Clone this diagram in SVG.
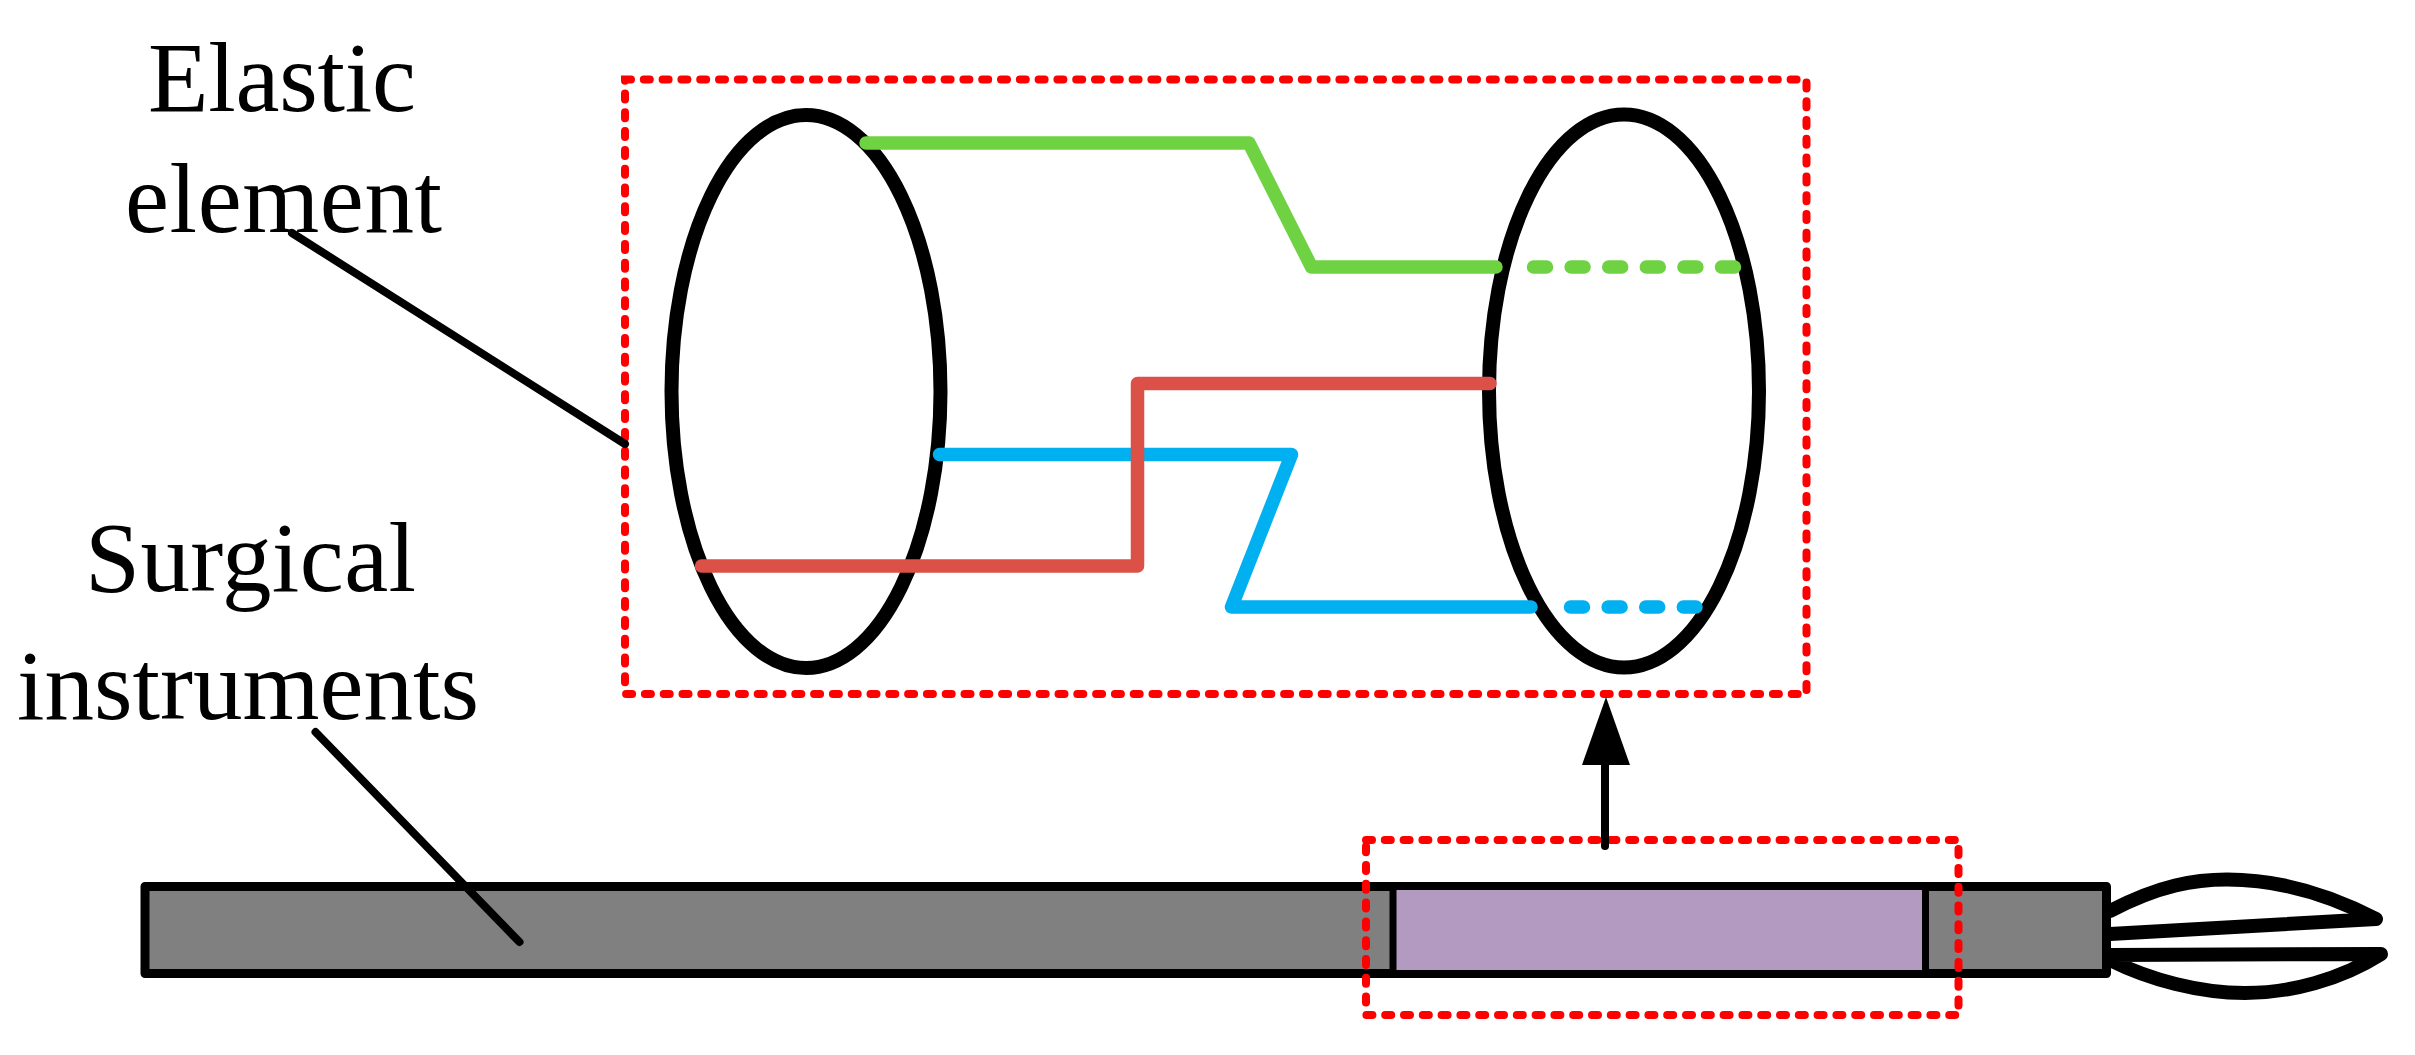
<svg xmlns="http://www.w3.org/2000/svg" width="2415" height="1055" viewBox="0 0 2415 1055">
<style>
.lbl{font-family:"Liberation Serif","Times New Roman",serif;font-size:99px;fill:#000}
.red{fill:none;stroke:#ff0000;stroke-width:8;stroke-linecap:round;stroke-dasharray:6 12.8}
.w{fill:none;stroke-width:13.5;stroke-linecap:round;stroke-linejoin:round}
.el{fill:none;stroke:#000;stroke-width:14}
.lead{fill:none;stroke:#000;stroke-width:8;stroke-linecap:round}
.jaw{fill:none;stroke:#000;stroke-width:14;stroke-linejoin:round;stroke-linecap:round}
.g{stroke:#6fd243}.r{stroke:#db5147}.b{stroke:#00b0f0}
.dash{stroke-dasharray:13 24.6}
</style>
<rect width="2415" height="1055" fill="#fff"/>
<g id="elastic-label"><text class="lbl" x="148" y="111" textLength="268">Elastic</text><text class="lbl" x="125" y="232" textLength="317">element</text></g>
<g id="surgical-label"><text class="lbl" x="85" y="591" textLength="331">Surgical</text><text class="lbl" x="17" y="719" textLength="462">instruments</text></g>
<g id="ring-left"><ellipse class="el" cx="806" cy="391.500" rx="134.500" ry="276.500"/></g>
<g id="ring-right"><ellipse class="el" cx="1624" cy="391" rx="135" ry="276.500"/></g>
<g id="instrument">
<path class="jaw" d="M2110 911C2160 885 2195 879.500 2227 879.500C2280 879.500 2330 895 2376 919L2110 934"/>
<path class="jaw" d="M2110 955L2381 954C2340 980 2290 993 2245 993C2200 993 2150 980 2110 960"/>
<rect x="145" y="886.500" width="1961.500" height="87" fill="#808080" stroke="#000" stroke-width="9" stroke-linejoin="round"/>
<rect x="1393" y="886.500" width="532.500" height="87" fill="#b29ac1" stroke="#000" stroke-width="7"/>
</g>
<g id="detail-frame"><rect class="red" x="625" y="79.500" width="1181.500" height="614.500"/></g>
<g id="source-frame"><rect class="red" x="1366" y="840" width="592.500" height="175"/></g>
<g id="connectors">
<path class="w g" d="M866 143H1249L1311.500 267H1496"/>
<path class="w g dash" d="M1533.500 267H1735"/>
<path class="w b" d="M939.500 454.500H1291.500L1231.500 607H1531"/>
<path class="w b dash" d="M1570.500 607H1696"/>
<path class="w r" d="M701.500 566H1137.500V383.500H1490"/>
<path class="lead" d="M292 233L625 444"/>
<path class="lead" d="M315.500 732L519.500 942"/>
<path d="M1605 846V760" fill="none" stroke="#000" stroke-width="8" stroke-linecap="round"/>
<path d="M1606 697L1630 765H1582Z" fill="#000"/>
</g>
</svg>
